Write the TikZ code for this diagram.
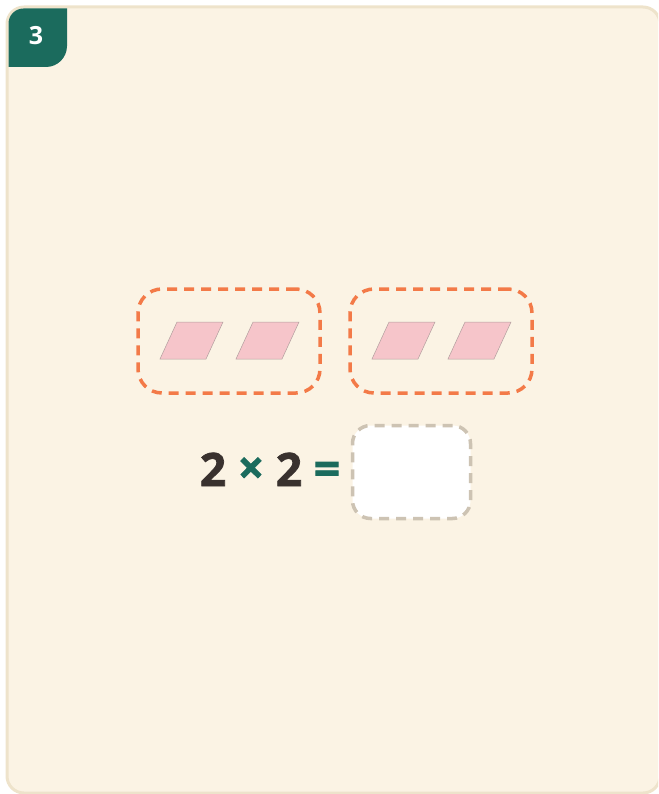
\documentclass[tikz,border=0pt]{standalone}
\usepackage{fontspec}
\setmainfont{Open Sans}
\newfontfamily\heavyfont[BoldFeatures={FakeBold=1.6}]{Open Sans}
\definecolor{cardbg}{HTML}{FBF3E4}
\definecolor{cardline}{HTML}{EEE3CB}
\definecolor{badgeteal}{HTML}{1B6B5D}
\definecolor{groupline}{HTML}{F37A48}
\definecolor{tilefill}{HTML}{F6C5CA}
\definecolor{tileline}{HTML}{B29E9E}
\definecolor{digit}{HTML}{39312E}
\definecolor{boxline}{HTML}{CDC3B3}
\begin{document}
\begin{tikzpicture}[x=1pt, y=-1pt,
                    card/.style={fill=cardbg, draw=cardline, line width=3pt, rounded corners=17pt},
                    group/.style={draw=groupline, line width=3.5pt, dash pattern=on 10pt off 7pt, rounded corners=24pt, minimum width=182pt, minimum height=104pt},
                    tile/.style={fill=tilefill, draw=tileline, line width=0.5pt},
                    num/.style={font=\fontsize{46}{46}\selectfont\heavyfont\bfseries, text=digit, anchor=base, inner sep=0pt},
                    op/.style={font=\fontsize{46}{46}\selectfont\heavyfont\bfseries, text=badgeteal, anchor=base, inner sep=0pt},
                    answer/.style={fill=white, draw=boxline, line width=3.5pt, dash pattern=on 10pt off 7pt, rounded corners=18pt, minimum width=118pt, minimum height=93pt}
                ]
                \useasboundingbox (0,0) rectangle (658,794);

                % Card
                \begin{scope}
                    \clip (0,0) rectangle (658,794);
                    \draw[card] (7,7) rectangle (660,793);
                    \fill[badgeteal] (8.5,67) [rounded corners=15pt] -- (8.5,8.5) [sharp corners] -- (67,8.5) [rounded corners=21pt] -- (67,67) [sharp corners] -- cycle;
                \end{scope}
                \node[font=\fontsize{25}{25}\selectfont\bfseries, text=white] (badge) at (36,36) {3};

                % Groups
                \node[group] (g1) at (229,341) {};
                \node[group] (g2) at (441,341) {};

                % tiles
                \foreach \tx in {160,236,372,448}
                    \draw[tile] (\tx,359) -- ++(46,0) -- ++(17,-37) -- ++(-46,0) -- cycle;

                % Equation
                \node[num] (n1) at (213,486) {2};
                \node[op] (times) at (251,484) {×};
                \node[num] (n2) at (289,486) {2};
                \node[op] (eq) at (327,485) {=};
                \node[answer] (ans) at (411.5,472) {};

            \end{tikzpicture}
\end{document}
